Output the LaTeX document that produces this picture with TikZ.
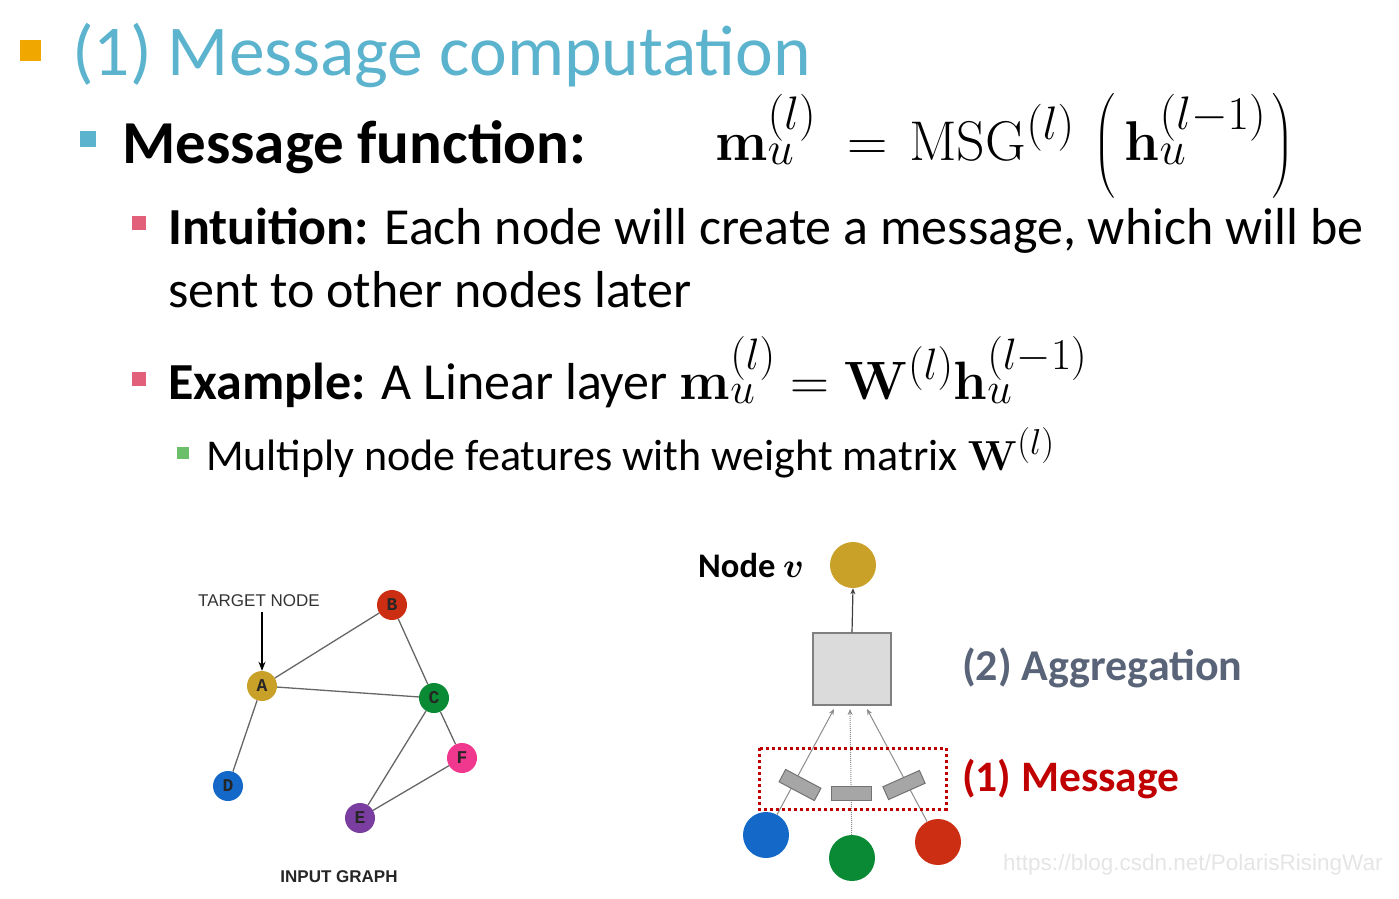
\documentclass[tikz,border=0pt]{standalone}
\usepackage{fix-cm}
\usepackage{amsmath}
\usepackage[no-math]{fontspec}
\setmainfont{Carlito}
\newfontfamily\arialf{Liberation Sans}
\newfontfamily\courf{Liberation Mono}
\usetikzlibrary{arrows.meta}
\DeclareMathSizes{56}{56}{47}{36}
\DeclareMathSizes{54}{54}{44}{34}
\DeclareMathSizes{42}{42}{36}{28}
\definecolor{titleblue}{RGB}{91,179,206}
\definecolor{bulorange}{RGB}{240,168,0}
\definecolor{bulblue}{RGB}{91,179,206}
\definecolor{bulpink}{RGB}{226,96,122}
\definecolor{bulgreen}{RGB}{107,191,107}
\definecolor{ngold}{RGB}{201,160,40}
\definecolor{nred}{RGB}{204,46,20}
\definecolor{ngreen}{RGB}{10,138,52}
\definecolor{nblue}{RGB}{20,104,200}
\definecolor{npurple}{RGB}{122,62,160}
\definecolor{npink}{RGB}{240,56,143}
\definecolor{agggray}{RGB}{90,100,120}
\definecolor{msgred}{RGB}{192,0,0}
\tikzset{
  txt/.style={inner sep=0pt, anchor=base west},
  bullet/.style={inner sep=0pt, minimum size=#1, draw=none},
  gnode/.style={circle, inner sep=0pt, minimum size=30pt, text=black!85, font=\courf\bfseries\fontsize{18}{18}\selectfont},
  gedge/.style={draw=black!60, line width=1.3pt},
  bignode/.style={circle, inner sep=0pt, minimum size=46pt},
  msgrect/.style={draw=black!55, fill=black!35, line width=1pt, minimum width=40pt, minimum height=14pt, inner sep=0pt},
  flowarrow/.style={draw=black!45, line width=1pt, -{Stealth[length=6pt,width=5pt]}},
}
\begin{document}
\begin{tikzpicture}[x=1pt,y=-1pt]
\useasboundingbox (0,0) rectangle (1399,898);
% bullets
\node[bullet=21pt, fill=bulorange] (b0) at (30,50) {};
\node[bullet=16pt, fill=bulblue] (b1) at (88,139) {};
\node[bullet=14pt, fill=bulpink] (b2) at (139,223) {};
\node[bullet=14pt, fill=bulpink] (b3) at (139,379) {};
\node[bullet=12pt, fill=bulgreen] (b4) at (183,453) {};
% texts
\node[txt, text=titleblue, font=\fontsize{71.5}{80}\selectfont] (title) at (72,75) {(1) Message computation};
\node[txt, font=\bfseries\fontsize{61}{70}\selectfont] (mf) at (122,163) {Message function:};
\node[txt, font=\fontsize{56}{60}\selectfont] (f1) at (715,160) {$\mathbf{m}_u^{(l)}\mkern5mu=\mkern2mu\mathrm{MSG}^{(l)}\mkern3mu\left(\vphantom{\vrule height 60pt depth 36pt}\mkern3mu\mathbf{h}_u^{(l-1)}\mkern2mu\right)$};
\node[txt, font=\fontsize{52}{60}\selectfont] (intu) at (168,244) {\textbf{Intuition:} Each node will create a message, which will be};
\node[txt, font=\fontsize{52}{60}\selectfont] (intu2) at (168,307) {sent to other nodes later};
\node[txt, font=\fontsize{52}{60}\selectfont] (ex) at (168,399) {\textbf{Example:} A Linear layer \fontsize{54}{60}\selectfont$\mathbf{m}_u^{(l)}=\mathbf{W}^{(l)}\mathbf{h}_u^{(l-1)}$};
\node[txt, font=\fontsize{44}{50}\selectfont] (mult) at (206,470) {Multiply node features with weight matrix \fontsize{42}{50}\selectfont$\mathbf{W}^{(l)}$};
% input graph
\node[gnode, fill=ngold] (A) at (262,686) {A};
\node[gnode, fill=nred] (B) at (392,605) {B};
\node[gnode, fill=ngreen] (C) at (434,698) {C};
\node[gnode, fill=nblue] (D) at (228,786) {D};
\node[gnode, fill=npurple] (E) at (360,818) {E};
\node[gnode, fill=npink] (F) at (462,758) {F};
\draw[gedge] (A) -- (B);
\draw[gedge] (A) -- (C);
\draw[gedge] (A) -- (D);
\draw[gedge] (B) -- (C);
\draw[gedge] (C) -- (E);
\draw[gedge] (C) -- (F);
\draw[gedge] (E) -- (F);
\node[inner sep=0pt, font=\arialf\fontsize{17}{17}\selectfont, text=black!80] (tn) at (259,601) {TARGET NODE};
\draw[line width=1.3pt, -{Stealth[length=9pt,width=7pt]}] (tn.south -| A) ++(0,5) coordinate (tns) (tns) -- (A.north);
\node[inner sep=0pt, font=\arialf\bfseries\fontsize{17}{17}\selectfont, text=black!85] (ig) at (339,877) {INPUT GRAPH};
% right diagram
\node[bignode, fill=ngold] (v) at (853,565) {};
\node[txt, font=\bfseries\fontsize{34.5}{38}\selectfont] (nv) at (698,577) {Node $\boldsymbol{v}$};
\node[draw=black!50, fill=black!14, line width=1.2pt, minimum width=78pt, minimum height=72pt, inner sep=0pt] (agg) at (852,669) {};
\draw[draw=black!75, line width=1.2pt, -{Stealth[length=6pt,width=5pt]}] (agg.north) -- (v.south);
\node[bignode, fill=nblue] (u1) at (766,835) {};
\node[bignode, fill=ngreen] (u2) at (852,858) {};
\node[bignode, fill=nred] (u3) at (938,842) {};
\coordinate (t1) at (834,709);
\coordinate (t2) at (850,709);
\coordinate (t3) at (867,709);
\draw[flowarrow] (u1) -- (t1);
\draw[flowarrow, densely dotted] (u2) -- (t2);
\draw[flowarrow] (u3) -- (t3);
\node[msgrect, rotate=-28] (r1) at (800,785) {};
\node[msgrect] (r2) at (851,793) {};
\node[msgrect, rotate=24] (r3) at (904,785) {};
\draw[msgred, line width=3pt, dash pattern=on 3pt off 3pt] (759,748) rectangle (946,809);
\node[txt, text=agggray, font=\bfseries\fontsize{44}{48}\selectfont] (aggl) at (962,680) {(2) Aggregation};
\node[txt, text=msgred, font=\bfseries\fontsize{43.5}{48}\selectfont] (msgl) at (962,791) {(1) Message};
\node[txt, text=black!10, font=\arialf\fontsize{22.5}{26}\selectfont] (wm) at (1003,870) {https://blog.csdn.net/PolarisRisingWar};
\end{tikzpicture}
\end{document}
